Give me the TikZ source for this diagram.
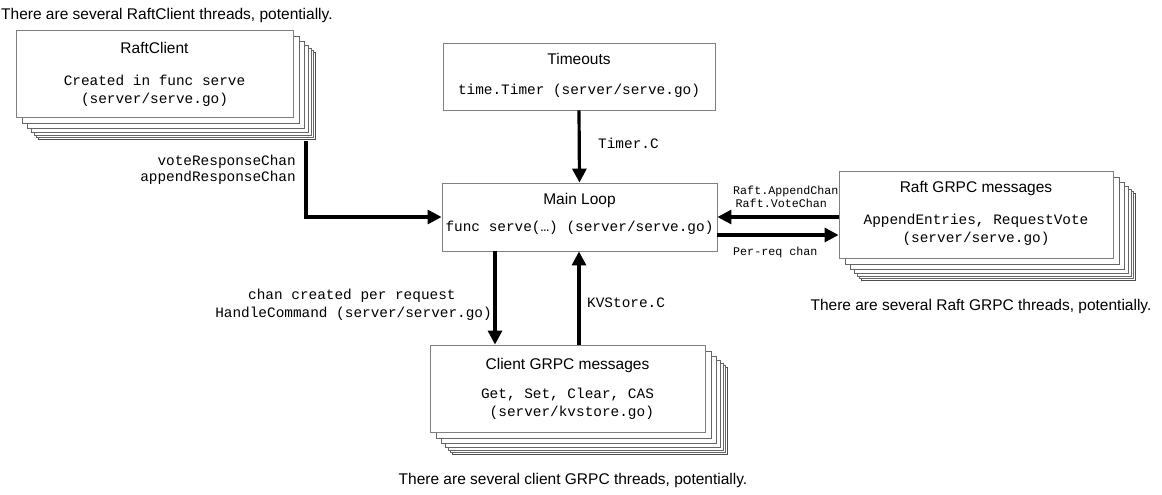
\documentclass[tikz,border=0pt]{standalone}
\usepackage{fontspec}
\setmainfont{Liberation Sans}
\setmonofont{Liberation Mono}
\usetikzlibrary{arrows.meta,shadows}
\newcommand\titlef{\fontsize{15.5}{18}\selectfont\rmfamily}
\newcommand\codef{\fontsize{14.4}{18}\selectfont\ttfamily}
\newcommand\codeff{\fontsize{14.4}{16}\selectfont\ttfamily}
\newcommand\smallcodef{\fontsize{11.7}{12}\selectfont\ttfamily}
\tikzset{
  x=1pt, y=-1pt,
  box/.style={draw=gray, line width=0.9pt, fill=white, inner sep=0pt},
  lay/.style={general shadow={shadow xshift=#1pt, shadow yshift=-#1pt, fill=white, draw=gray!80!black, line width=0.9pt}},
  lastlay/.style={general shadow={shadow xshift=#1pt, shadow yshift=-#1pt, fill=white, draw=gray!60!black, line width=1.6pt}},
  stacked/.style={lastlay=22.5, lay=20, lay=18, lay=15, lay=11.5, lay=6},
  arr/.style={line width=3.2pt, -{Triangle[length=14pt,width=14pt]}},
  txt/.style={inner sep=0pt},
  title/.style={txt, font=\titlef},
  code/.style={txt, font=\codef, align=center},
}
\begin{document}
\begin{tikzpicture}
\useasboundingbox[fill=white] (0,0) rectangle (1162,495);

% boxes
\node[box, stacked, minimum width=277pt, minimum height=87pt] (rc) at (154.5,73.5) {};
\node[box, minimum width=272pt, minimum height=67pt] (to) at (579,76.5) {};
\node[box, minimum width=275pt, minimum height=68pt] (ml) at (579.5,217) {};
\node[box, stacked, minimum width=274pt, minimum height=87pt] (rg) at (976,214.5) {};
\node[box, stacked, minimum width=275pt, minimum height=87pt] (cg) at (567.5,388.5) {};

% box texts
\node[title] (rct) at (154.5,48) {RaftClient};
\node[code] (rcc) at (154.5,91) {Created in func serve\\(server/serve.go)};
\node[title] (tot) at (579,59) {Timeouts};
\node[code] (toc) at (579,91) {time.Timer (server/serve.go)};
\node[title] (mlt) at (579.5,200) {Main Loop};
\node[code] (mlc) at (579.5,228) {func serve(…) (server/serve.go)};
\node[title] (rgt) at (976,188) {Raft GRPC messages};
\node[code] (rgc) at (976,229.5) {AppendEntries, RequestVote\\(server/serve.go)};
\node[title] (cgt) at (567.5,365) {Client GRPC messages};
\node[code] (cgc) at (567.5,404) {Get, Set, Clear, CAS\\\ (server/kvstore.go)};

% captions
\node[title, anchor=west] (cap1) at (1,15) {There are several RaftClient threads, potentially.};
\node[title] (cap2) at (981,306) {There are several Raft GRPC threads, potentially.};
\node[title] (cap3) at (573,480) {There are several client GRPC threads, potentially.};

% connector anchor points
\coordinate (rcout) at (306,141);
\coordinate (lowy) at (0,235);
\coordinate (downx) at (495,0);
\coordinate (upx) at (579,0);

% connectors
\draw[arr] (rcout) |- (ml.west);
\draw[arr] (to.south) -- (ml.north);
\draw[arr] (rg.west |- ml.east) -- (ml.east);
\draw[arr] (ml.east |- lowy) -- (rg.west |- lowy);
\draw[arr] (ml.south -| downx) -- (cg.north -| downx);
\draw[arr] (cg.north -| upx) -- (ml.south -| upx);

% connector labels
\node[txt, font=\codef, anchor=west] (timerc) at (598,143) {Timer.C};
\node[txt, font=\codeff, anchor=east, align=right] (rcl) at (296,170) {voteResponseChan\\appendResponseChan};
\node[txt, font=\smallcodef, anchor=west] (rapp) at (733,191) {Raft.AppendChan};
\node[txt, font=\smallcodef, anchor=west] (rvote) at (735.5,203) {Raft.VoteChan};
\node[txt, font=\smallcodef, anchor=west] (perreq) at (733,252) {Per-req chan};
\node[txt, font=\codef, anchor=west] (hc1) at (248,296) {chan created per request};
\node[txt, font=\codef, anchor=east] (hc2) at (492,314) {HandleCommand (server/server.go)};
\node[txt, font=\codef, anchor=west] (kvc) at (587,303) {KVStore.C};
\end{tikzpicture}
\end{document}
